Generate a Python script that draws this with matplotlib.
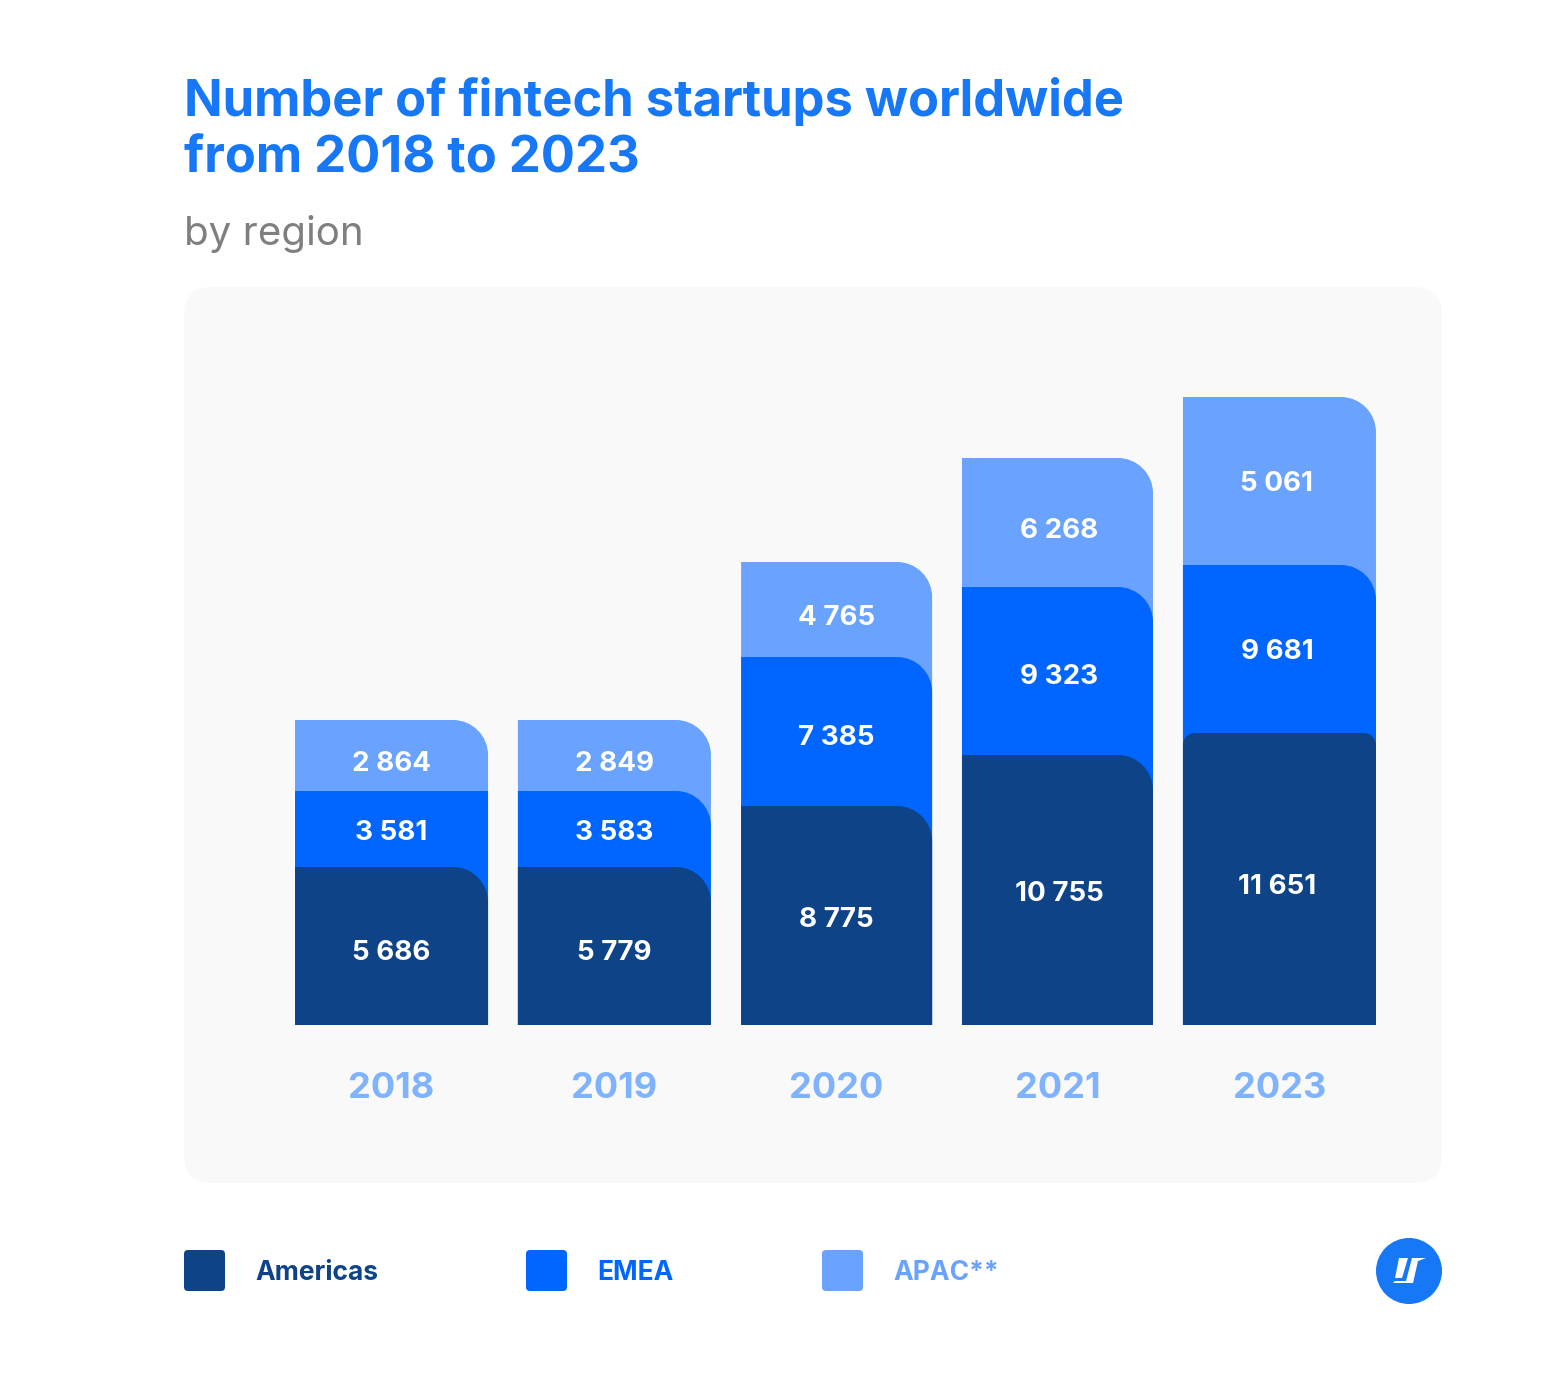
import matplotlib
matplotlib.use("Agg")
import matplotlib.pyplot as plt
from matplotlib.patches import FancyBboxPatch, PathPatch, Circle, Polygon
from matplotlib.path import Path

plt.rcParams['font.family'] = ['Inter', 'DejaVu Sans']

years = ['2018', '2019', '2020', '2021', '2023']
americas = [5686, 5779, 8775, 10755, 11651]
emea = [3581, 3583, 7385, 9323, 9681]
apac = [2864, 2849, 4765, 6268, 5061]

# the source does not draw bars to scale, so these are the drawn segment heights
americas_drawn = [158, 158, 219, 270, 292]
emea_drawn = [76, 76, 149, 168, 168]
apac_drawn = [71, 71, 95, 129, 168]

NAVY = '#0e4388'
BLUE = '#0066ff'
LIGHT = '#69a2ff'
TITLE = '#1677f7'
W, H = 1550, 1400
BASE = 1025
PITCH = 1111 / 5


def rounded_bar(ax, x, width, bottom, top, r, color, zorder, r_left=0):
    # top right corner rounded, top left only where r_left is given
    rx = r / PITCH
    lx = r_left / PITCH
    left, right = x - width / 2, x + width / 2
    k = 0.55
    verts = [(left, bottom), (left, top - r_left),
             (left, top - r_left * (1 - k)), (left + lx * (1 - k), top), (left + lx, top),
             (right - rx, top),
             (right - rx * (1 - k), top), (right, top - r * (1 - k)), (right, top - r),
             (right, bottom), (left, bottom)]
    codes = [Path.MOVETO, Path.LINETO,
             Path.CURVE4, Path.CURVE4, Path.CURVE4,
             Path.LINETO,
             Path.CURVE4, Path.CURVE4, Path.CURVE4,
             Path.LINETO, Path.CLOSEPOLY]
    ax.add_patch(PathPatch(Path(verts, codes), fc=color, ec='none', zorder=zorder))


fig = plt.figure(figsize=(W / 100, H / 100), dpi=100, facecolor='white')

# page layer in pixels
bg = fig.add_axes([0, 0, 1, 1])
bg.set_xlim(0, W)
bg.set_ylim(H, 0)
bg.axis('off')
bg.add_patch(FancyBboxPatch((184 + 28, 287 + 28), 1258 - 56, 896 - 56,
                            boxstyle='round,pad=28,rounding_size=28', fc='#f9f9f9', ec='none'))

bg.text(184, 101, 'Number of fintech startups worldwide', color=TITLE, fontsize=36.5,
        fontweight='bold', va='center', ha='left')
bg.text(184, 159, 'from 2018 to 2023', color=TITLE, fontsize=36.5,
        fontweight='bold', va='center', ha='left')
bg.text(184, 234, 'by region', color='#7f7f7f', fontsize=29, va='center', ha='left')

# legend
for x0, tx, name, col in [(184, 255, 'Americas', NAVY), (526, 597, 'EMEA', BLUE), (822, 893, 'APAC**', LIGHT)]:
    bg.add_patch(FancyBboxPatch((x0 + 4, 1250 + 4), 41 - 8, 41 - 8,
                                boxstyle='round,pad=4,rounding_size=4', fc=col, ec='none'))
    bg.text(tx, 1273, name, color=col, fontsize=19, fontweight='bold', va='center', ha='left')

# logo
bg.add_patch(Circle((1409, 1271), 33, fc=TITLE, ec='none'))
bg.add_patch(Polygon([(1399, 1258), (1408, 1258), (1402, 1278), (1395, 1278)], fc='white', ec='none'))
bg.add_patch(Polygon([(1412, 1258), (1426, 1258), (1418, 1261), (1413, 1283), (1393, 1283),
                      (1395, 1281), (1406, 1281)], fc='white', ec='none'))

# bars, one unit of y is one pixel, one unit of x is one bar pitch
ax = fig.add_axes([280 / W, 1 - BASE / H, 1111 / W, 640 / H])
ax.set_xlim(-0.5, 4.5)
ax.set_ylim(0, 640)
ax.patch.set_alpha(0)
for s in ax.spines.values():
    s.set_visible(False)
ax.set_yticks([])

bar_x = [0.002, 1.005, 2.005, 2.999, 3.998]
bar_w = [193 / PITCH, 193 / PITCH, 191 / PITCH, 191 / PITCH, 193 / PITCH]
ax.set_xticks(bar_x)
ax.set_xticklabels(years, color='#7fb3ff', fontsize=26, fontweight='bold')
ax.tick_params(axis='x', length=0, pad=34)

emea_r = [0, 35, 35, 35, 35]
am_r = [35, 35, 35, 35, 12]
am_r_left = [0, 0, 0, 0, 12]
label_dx = [0, 0, 0, 1.5, -2.5]
label_am = [950, 950, 917, 891, 884]
label_em = [830, 830, 735, 674, 649]
label_ap = [761, 761, 615, 528, 481]

for i in range(len(years)):
    a = americas_drawn[i]
    e = a + emea_drawn[i]
    t = e + apac_drawn[i]
    rounded_bar(ax, bar_x[i], bar_w[i], 0, t, 35, LIGHT, 2)
    rounded_bar(ax, bar_x[i], bar_w[i], 0, e, emea_r[i], BLUE, 3)
    rounded_bar(ax, bar_x[i], bar_w[i], 0, a, am_r[i], NAVY, 4, r_left=am_r_left[i])
    for vals, ly in [(americas, label_am), (emea, label_em), (apac, label_ap)]:
        ax.text(bar_x[i] + label_dx[i] / PITCH, BASE - ly[i] - 3, f'{vals[i]:,}'.replace(',', ' '),
                color='white', fontsize=20, fontweight='bold', ha='center', va='center', zorder=5)

fig.savefig('out.png', dpi=100)
